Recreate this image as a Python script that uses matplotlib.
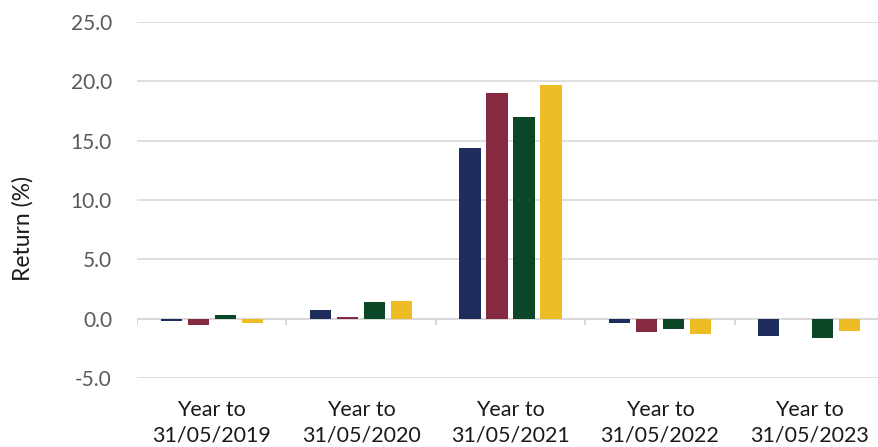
import numpy as np
import matplotlib
matplotlib.use("Agg")
import matplotlib.pyplot as plt

# Data
periods = ["Year to\n31/05/2019", "Year to\n31/05/2020", "Year to\n31/05/2021",
           "Year to\n31/05/2022", "Year to\n31/05/2023"]
series_a = [-0.2, 0.7, 14.4, -0.4, -1.5]
series_b = [-0.5, 0.1, 19.0, -1.1, 0.0]
series_c = [0.3, 1.4, 17.0, -0.9, -1.6]
series_d = [-0.35, 1.45, 19.7, -1.3, -1.0]
colors = ["#1F2D5C", "#862A41", "#0B4627", "#EDBD26"]
yticks = [-5, 0, 5, 10, 15, 20, 25]

plt.rcParams['font.family'] = ['Lato', 'DejaVu Sans']

fig = plt.figure(figsize=(8.79, 4.47), dpi=100)
ax = fig.add_axes([137 / 879, 1 - 378 / 447, 747 / 879, 356 / 447])

x = np.arange(len(periods))
width = 0.142
step = 0.181
for i, (vals, c) in enumerate(zip([series_a, series_b, series_c, series_d], colors)):
    ax.bar(x + (i - 1.5) * step, vals, width, color=c, zorder=3)

ax.set_xlim(-0.5, len(periods) - 0.5)
ax.set_ylim(-5, 25)
ax.set_yticks(yticks)
ax.set_yticklabels([f"{v:.1f}" for v in yticks])
ax.yaxis.grid(True, color="#D9D9D9", linewidth=1.2, zorder=0)
ax.tick_params(axis="y", length=0, pad=18, labelsize=15, labelcolor="#595959")

# category axis at zero with boundary ticks
ax.axhline(0, color="#D9D9D9", linewidth=1.5, zorder=2)
ax.vlines(np.arange(len(periods) + 1) - 0.5, -0.5, 0, color="#D9D9D9", linewidth=1.5, zorder=2)

ax.set_xticks(x)
ax.set_xticklabels(periods, fontsize=15.5, color="#1A1A1A", linespacing=1.3)
ax.tick_params(axis="x", length=0, pad=16)

ax.set_ylabel("Return (%)", fontsize=16.5, color="#1A1A1A")
ax.yaxis.set_label_coords(-0.139, 0.42)

for s in ax.spines.values():
    s.set_visible(False)

fig.savefig("out.png", dpi=100)
